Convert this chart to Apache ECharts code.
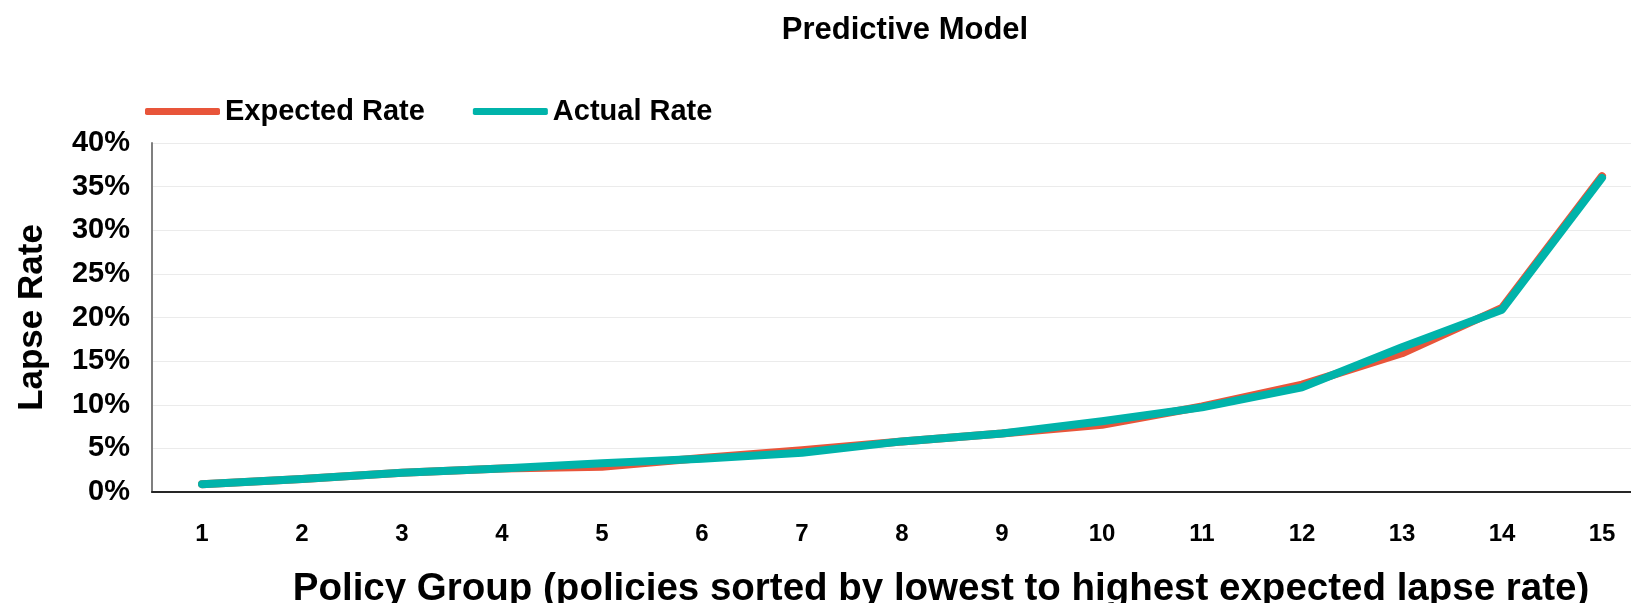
<!DOCTYPE html>
<html>
<head>
<meta charset="utf-8">
<title>Predictive Model</title>
<script src="https://cdn.jsdelivr.net/npm/echarts@6/dist/echarts.min.js"></script>
<style>
  html, body { margin: 0; padding: 0; background: #ffffff; overflow: hidden; }
  #chart { width: 1631px; height: 603px; }
</style>
</head>
<body>
<div id="chart"></div>
<script>
// Policy groups, sorted by lowest to highest expected lapse rate
const policyGroups = ['1', '2', '3', '4', '5', '6', '7', '8', '9', '10', '11', '12', '13', '14', '15'];
// Lapse rates in percent
const expectedRate = [0.9, 1.5, 2.2, 2.7, 2.9, 3.9, 4.8, 5.8, 6.7, 7.7, 9.8, 12.3, 15.9, 21.1, 36.2];
const actualRate   = [0.9, 1.5, 2.2, 2.7, 3.3, 3.8, 4.5, 5.8, 6.7, 8.1, 9.7, 12.0, 16.6, 20.9, 36.0];
const seriesNames = ['Expected Rate', 'Actual Rate'];

const FONT = '"Liberation Sans", Arial, Helvetica, sans-serif';
const RED = '#E8553A';
const TEAL = '#00B3AA';

const chart = echarts.init(document.getElementById('chart'), null, { renderer: 'canvas' });

chart.setOption({
  backgroundColor: '#ffffff',
  animation: false,
  title: {
    text: 'Predictive Model',
    left: 900,
    top: 10,
    textAlign: 'center',
    textStyle: { fontFamily: FONT, fontSize: 31, fontWeight: 'bold', color: '#000' }
  },
  legend: {
    data: seriesNames,
    left: 140,
    top: 92,
    icon: 'roundRect',
    itemWidth: 75,
    itemHeight: 7,
    itemGap: 48,
    textStyle: { fontFamily: FONT, fontSize: 29, fontWeight: 'bold', color: '#000' }
  },
  // the last category band runs past the right edge of the page
  grid: { left: 152, top: 143, width: 1500, bottom: 111, containLabel: false, outerBoundsMode: 'none' },
  xAxis: {
    type: 'category',
    data: policyGroups,
    boundaryGap: true,
    name: 'Policy Group (policies sorted by lowest to highest expected lapse rate)',
    nameLocation: 'middle',
    nameGap: 78,
    nameTextStyle: { fontFamily: FONT, fontSize: 38.5, fontWeight: 'bold', color: '#000', padding: [0, 0, 0, 78] },
    axisLine: { show: true, lineStyle: { color: '#262626', width: 2 } },
    axisTick: { show: false },
    axisLabel: { fontFamily: FONT, fontSize: 24, fontWeight: 'bold', color: '#000', margin: 30 },
    splitLine: { show: false }
  },
  yAxis: {
    type: 'value',
    min: 0,
    max: 40,
    interval: 5,
    name: 'Lapse Rate',
    nameLocation: 'middle',
    nameRotate: 90,
    nameGap: 102,
    nameTextStyle: { fontFamily: FONT, fontSize: 35, fontWeight: 'bold', color: '#000' },
    axisLine: { show: true, lineStyle: { color: '#7f7f7f', width: 2 } },
    axisTick: { show: false },
    axisLabel: { formatter: '{value}%', fontFamily: FONT, fontSize: 29, fontWeight: 'bold', color: '#000', margin: 22 },
    splitLine: { show: true, lineStyle: { color: '#ebebeb', width: 1 } }
  },
  series: [
    {
      name: seriesNames[0],
      type: 'line',
      data: expectedRate,
      symbol: 'none',
      color: RED,
      lineStyle: { color: RED, width: 8, cap: 'round', join: 'round' }
    },
    {
      name: seriesNames[1],
      type: 'line',
      data: actualRate,
      symbol: 'none',
      color: TEAL,
      lineStyle: { color: TEAL, width: 8, cap: 'round', join: 'round' }
    }
  ]
});
</script>
</body>
</html>
